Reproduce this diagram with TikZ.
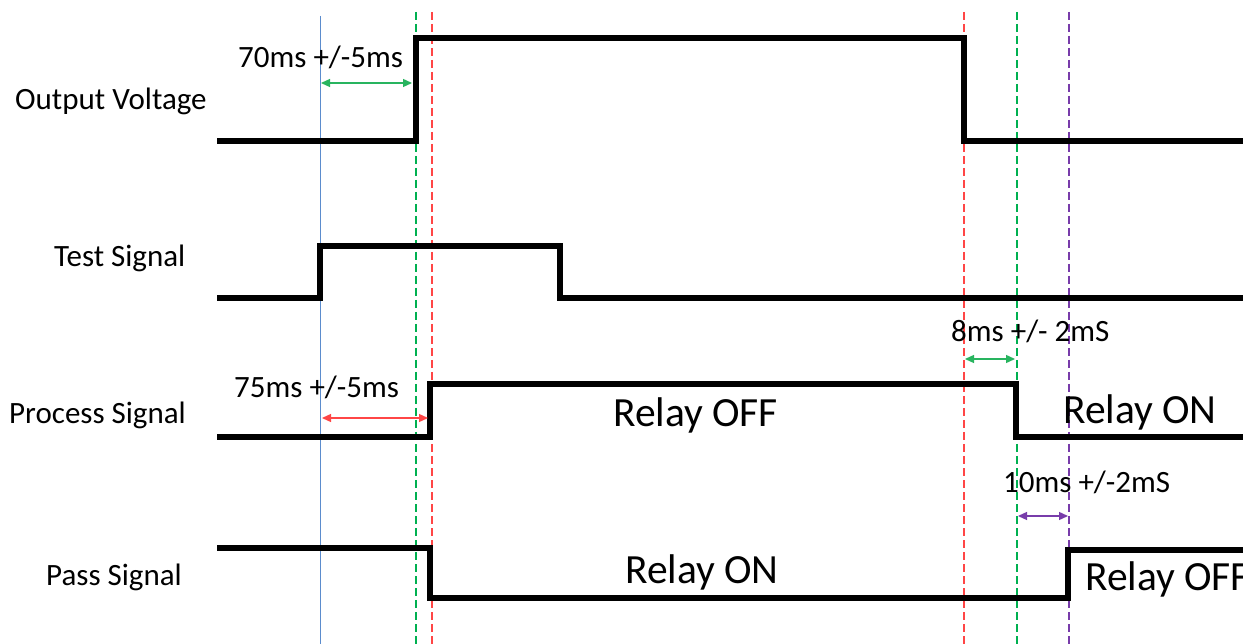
\documentclass[tikz,border=0pt]{standalone}
\usepackage{fontspec}
\setmainfont{Carlito}
\usetikzlibrary{arrows.meta}
\definecolor{cblue}{RGB}{91,140,205}
\definecolor{cgreen}{RGB}{0,176,80}
\definecolor{cgreenA}{RGB}{40,180,95}
\definecolor{cred}{RGB}{255,70,70}
\definecolor{cpurple}{RGB}{120,60,170}
\tikzset{
  wave/.style={line width=5.6pt, line join=miter, black},
  guide/.style={line width=1.4pt, dash pattern=on 8pt off 4pt},
  lbl/.style={anchor=base west, inner sep=0pt, font=\fontsize{31}{37}\selectfont},
  big/.style={anchor=base west, inner sep=0pt, font=\fontsize{41.5}{50}\selectfont},
  meas/.style={line width=1.3pt, {Triangle[length=9pt,width=8pt]}-{Triangle[length=9pt,width=8pt]}, shorten <=1pt, shorten >=1pt}
}
\begin{document}
\begin{tikzpicture}[x=1pt,y=-1pt]
\useasboundingbox (0,0) rectangle (1243,644);
\clip (0,0) rectangle (1243,644);
\fill[white] (0,0) rectangle (1243,644);
% guide lines
\coordinate (bT) at (320,16); \coordinate (bB) at (320,644);
\coordinate (g1T) at (416,12); \coordinate (g1B) at (416,644);
\coordinate (r1T) at (432,12); \coordinate (r1B) at (432,644);
\coordinate (r2T) at (964,12); \coordinate (r2B) at (964,644);
\coordinate (g2T) at (1017,12); \coordinate (g2B) at (1017,644);
\coordinate (pT) at (1069,12); \coordinate (pB) at (1069,644);
\draw[cblue, line width=1pt] (bT) -- (bB);
\draw[guide, cgreen] (g1T) -- (g1B);
\draw[guide, cred] (r1T) -- (r1B);
\draw[guide, cred] (r2T) -- (r2B);
\draw[guide, cgreen] (g2T) -- (g2B);
\draw[guide, cpurple] (pT) -- (pB);
% waveforms
\draw[wave] (217,141) -- (416,141) -- (416,38) -- (964,38) -- (964,141) -- (1250,141);
\draw[wave] (217,298) -- (320,298) -- (320,246) -- (560,246) -- (560,298) -- (1250,298);
\draw[wave] (217,437) -- (430,437) -- (430,384) -- (1016,384) -- (1016,437) -- (1250,437);
\draw[wave] (217,548) -- (430,548) -- (430,598) -- (1068,598) -- (1068,550) -- (1250,550);
% labels
\node[lbl] (ov) at (15,110) {Output Voltage};
\node[lbl] (ts) at (54,267) {Test Signal};
\node[lbl] (ps) at (9,423) {Process Signal};
\node[lbl] (pa) at (46,585) {Pass Signal};
\node[lbl] (t70) at (238,68) {70ms +/-5ms};
\node[lbl] (t75) at (234,398) {75ms +/-5ms};
\node[lbl] (t8) at (951,342) {8ms +/- 2mS};
\node[lbl] (t10) at (1003,492) {10ms +/-2mS};
\node[big] (ro1) at (613,427) {Relay OFF};
\node[big] (rn1) at (1063,423) {Relay ON};
\node[big] (rn2) at (625,583) {Relay ON};
\node[big] (ro2) at (1085,590) {Relay OFF};
% measurement arrows
\coordinate (a70a) at (320,83); \coordinate (a70b) at (413,83);
\coordinate (a75a) at (321,418); \coordinate (a75b) at (429,418);
\coordinate (a8a) at (964,359); \coordinate (a8b) at (1016,359);
\coordinate (a10a) at (1017,516); \coordinate (a10b) at (1069,516);
\draw[meas, cgreenA] (a70a) -- (a70b);
\draw[meas, cred] (a75a) -- (a75b);
\draw[meas, cgreenA] (a8a) -- (a8b);
\draw[meas, cpurple] (a10a) -- (a10b);
\end{tikzpicture}
\end{document}
